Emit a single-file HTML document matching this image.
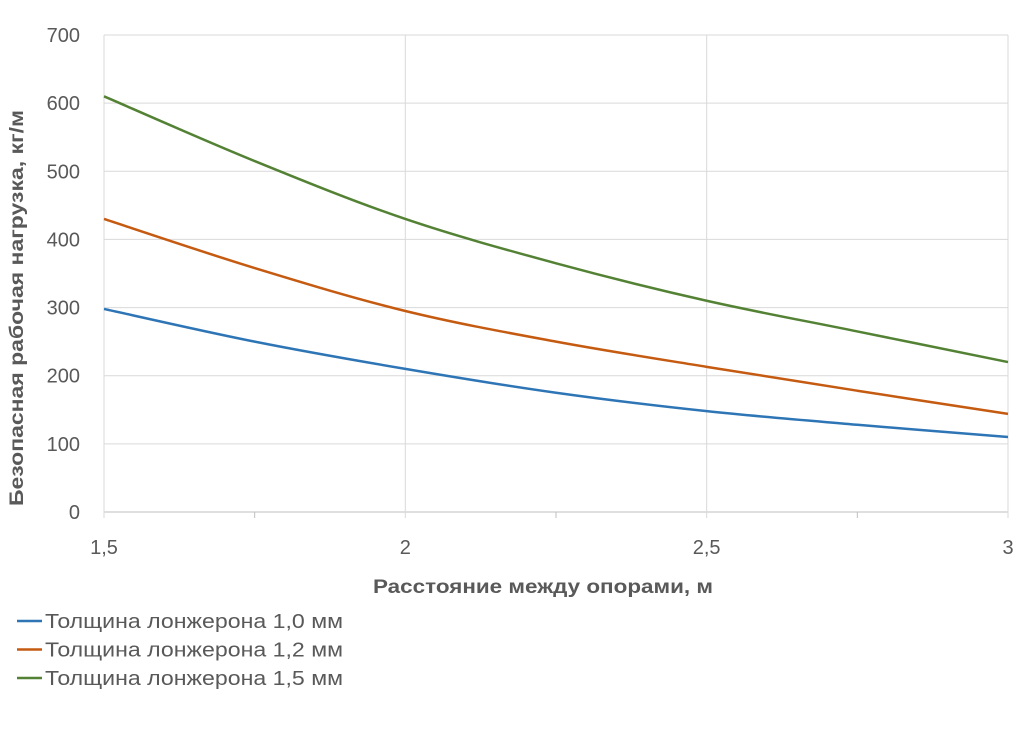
<!DOCTYPE html>
<html><head><meta charset="utf-8"><style>
body{margin:0;background:#fff;font-family:"Liberation Sans",sans-serif}
</style></head><body>
<svg id="chart" width="1018" height="730" xmlns="http://www.w3.org/2000/svg"></svg>
<script>
const xValues=[1.5,1.75,2,2.25,2.5,2.75,3];
const series10=[298,250,210,175,148,128,110];
const series12=[430,358,295,250,213,178,144];
const series15=[610,515,430,365,310,265,220];
const seriesNames=["Толщина лонжерона 1,0 мм","Толщина лонжерона 1,2 мм","Толщина лонжерона 1,5 мм"];
const yTicks=[0,100,200,300,400,500,600,700];
const xTicks=[1.5,2,2.5,3];
const xTickLabels=["1,5","2","2,5","3"];
const minorTicks=[1.75,2.25,2.75];

const NS="http://www.w3.org/2000/svg";
const svg=document.getElementById('chart');
const X0=104,X1=1008,Y0=512,Y1=35;
const sx=v=>X0+(v-1.5)/1.5*(X1-X0);
const sy=v=>Y0-v/700*(Y0-Y1);
function mk(t,a,p){const e=document.createElementNS(NS,t);for(const k in a)e.setAttribute(k,a[k]);(p||svg).appendChild(e);return e;}
yTicks.forEach((t,i)=>{
 const l=mk('line',{x1:X0,x2:X1,y1:sy(t),y2:sy(t),stroke:t===0?'#bfbfbf':'#d9d9d9','stroke-width':1});
 
 const tx=mk('text',{x:80,y:sy(t)+7,'text-anchor':'end','font-size':20,fill:'#595959'});
 tx.textContent=t;
});
xTicks.forEach((t,i)=>{
 const l=mk('line',{x1:sx(t),x2:sx(t),y1:Y1,y2:Y0+6,stroke:'#d9d9d9','stroke-width':1});
 
 const tx=mk('text',{x:sx(t),y:554,'text-anchor':'middle','font-size':20,fill:'#595959'});
 tx.textContent=xTickLabels[i];
});
minorTicks.forEach(t=>{
 const l=mk('line',{x1:sx(t),x2:sx(t),y1:Y0,y2:Y0+6,stroke:'#bfbfbf','stroke-width':1});
 
});
function path(vals){
 const p=xValues.map((x,i)=>[sx(x),sy(vals[i])]);
 let d='M'+p[0][0]+','+p[0][1];
 for(let i=0;i<p.length-1;i++){
  const a=p[Math.max(0,i-1)],b=p[i],c=p[i+1],e=p[Math.min(p.length-1,i+2)];
  const c1=[b[0]+(c[0]-a[0])/6,b[1]+(c[1]-a[1])/6],c2=[c[0]-(e[0]-b[0])/6,c[1]-(e[1]-b[1])/6];
  d+=` C${c1[0]},${c1[1]} ${c2[0]},${c2[1]} ${c[0]},${c[1]}`;
 }
 return d;
}
const colors=['#2e75b6','#c55a11','#548235'];
[series10,series12,series15].forEach((s,i)=>{
 const l=mk('path',{d:path(s),fill:'none',stroke:colors[i],'stroke-width':2.5});
 
 const ly=621+i*28.5;
 const g=mk('g',{});
 mk('line',{x1:17,x2:42,y1:ly,y2:ly,stroke:colors[i],'stroke-width':2.5},g);
 const t=mk('text',{x:45,y:ly+7,'font-size':20,fill:'#595959',textLength:298,lengthAdjust:'spacingAndGlyphs'},g);t.textContent=seriesNames[i];
});
const xt=mk('text',{x:543,y:593,'text-anchor':'middle','font-size':19,'font-weight':'bold',fill:'#595959',textLength:340,lengthAdjust:'spacingAndGlyphs'});
xt.textContent='Расстояние между опорами, м';
const yt=mk('text',{x:0,y:0,transform:'translate(23,308) rotate(-90)','text-anchor':'middle','font-size':19,'font-weight':'bold',fill:'#595959',textLength:396,lengthAdjust:'spacingAndGlyphs'});
yt.textContent='Безопасная рабочая нагрузка, кг/м';
</script>
</body></html>
